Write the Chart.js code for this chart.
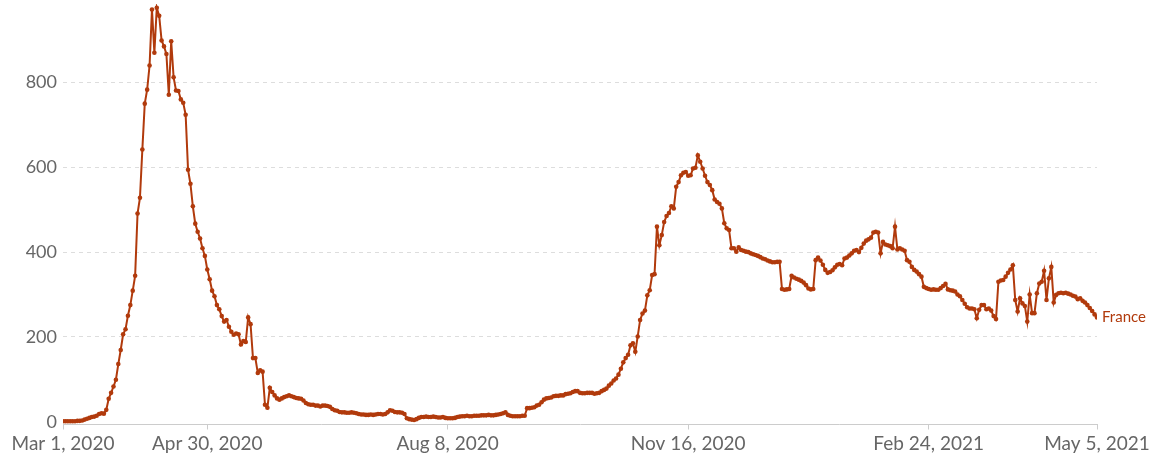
<!DOCTYPE html>
<html>
<head>
<meta charset="utf-8">
<script src="https://cdn.jsdelivr.net/npm/chart.js@4.4.1/dist/chart.umd.min.js"></script>
<style>
html, body { margin: 0; padding: 0; background: #fff; }
#wrap { width: 1155px; height: 454px; position: relative; }
</style>
</head>
<body>
<div id="wrap"><canvas id="myChart"></canvas></div>
<script>
// Daily values for France, one per day from Mar 1, 2020 (day 0) to May 5, 2021 (day 430)
let seriesName = "France";
let deaths = [
    1, 1, 1, 1, 1, 1, 2, 2, 3, 5,
    7, 9, 11, 12, 14, 18, 20, 19, 28, 54,
    68, 83, 99, 136, 169, 206, 218, 250, 275, 309,
    344, 491, 528, 642, 750, 783, 840, 972, 870, 976,
    957, 899, 885, 867, 771, 897, 812, 781, 780, 760,
    752, 724, 594, 561, 508, 467, 448, 432, 409, 391,
    359, 336, 309, 296, 275, 265, 249, 236, 240, 224,
    212, 205, 208, 206, 182, 190, 188, 246, 230, 150,
    150, 115, 121, 118, 40, 33, 80, 70, 62, 55,
    52, 55, 58, 60, 62, 60, 58, 56, 55, 54,
    50, 44, 41, 40, 40, 38, 38, 36, 38, 38,
    37, 35, 30, 27, 26, 23, 22, 22, 21, 21,
    22, 21, 20, 18, 17, 17, 16, 16, 17, 16,
    17, 18, 18, 17, 18, 22, 27, 26, 23, 22,
    22, 21, 18, 8, 6, 5, 4, 6, 9, 11,
    11, 12, 11, 11, 12, 11, 10, 10, 11, 9,
    8, 8, 8, 9, 11, 12, 13, 13, 14, 13,
    13, 14, 14, 14, 15, 15, 15, 16, 15, 15,
    16, 17, 18, 20, 22, 16, 14, 13, 13, 13,
    13, 14, 14, 32, 32, 33, 34, 38, 40, 46,
    52, 55, 56, 57, 60, 61, 61, 62, 62, 65,
    66, 67, 70, 72, 72, 68, 67, 67, 68, 68,
    68, 66, 67, 68, 72, 75, 78, 85, 90, 97,
    102, 111, 125, 140, 150, 158, 180, 185, 165, 201,
    240, 255, 262, 298, 310, 346, 348, 460, 416, 440,
    471, 485, 492, 508, 503, 554, 565, 581, 587, 589,
    580, 581, 597, 599, 628, 613, 597, 580, 565, 558,
    546, 524, 518, 514, 503, 468, 456, 452, 409, 409,
    401, 411, 405, 403, 401, 400, 397, 395, 393, 391,
    388, 385, 383, 380, 378, 376, 376, 377, 377, 313,
    311, 312, 313, 344, 340, 337, 335, 332, 328, 322,
    314, 312, 313, 381, 387, 380, 370, 358, 351, 353,
    357, 364, 370, 372, 369, 385, 387, 392, 397, 403,
    405, 400, 410, 420, 427, 430, 434, 446, 448, 446,
    397, 424, 418, 416, 414, 409, 460, 406, 409, 406,
    403, 381, 377, 365, 358, 354, 348, 342, 318, 315,
    313, 311, 312, 311, 311, 315, 320, 325, 312, 310,
    309, 307, 300, 296, 287, 278, 270, 267, 267, 265,
    244, 264, 275, 275, 265, 267, 262, 249, 242, 330,
    333, 334, 342, 351, 359, 369, 287, 260, 291, 279,
    273, 236, 300, 256, 256, 303, 326, 330, 356, 287,
    338, 365, 281, 299, 303, 304, 303, 304, 302, 300,
    297, 295, 289, 291, 285, 281, 275, 268, 261, 253,
    246
];

// x axis ticks (day index from Mar 1, 2020) and their labels
let tickDays = [0, 60, 160, 260, 360, 430];
let tickLabels = ["Mar 1, 2020", "Apr 30, 2020", "Aug 8, 2020", "Nov 16, 2020", "Feb 24, 2021", "May 5, 2021"];
let yTicks = [0, 200, 400, 600, 800];

let lineColor = "#b13a0c";
let points = deaths.map(function(v, i) { return { x: i, y: v }; });

// writes the series name next to the last point
let endLabel = {
    id: "endLabel",
    afterDatasetsDraw: function(chart) {
        let meta = chart.getDatasetMeta(0);
        let last = meta.data[meta.data.length - 1];
        let c = chart.ctx;
        c.save();
        c.font = "15px Lato";
        c.fillStyle = lineColor;
        c.textBaseline = "middle";
        c.fillText(seriesName, last.x + 5, last.y);
        c.restore();
    }
};

let ctx = document.getElementById("myChart").getContext("2d");
let myChart = new Chart(ctx, {
    type: "line",
    data: {
        datasets: [{
            label: seriesName,
            data: points,
            borderColor: lineColor,
            backgroundColor: lineColor,
            borderWidth: 2,
            pointRadius: 2.3,
            pointBorderWidth: 0,
            pointBackgroundColor: lineColor,
            tension: 0
        }]
    },
    options: {
        responsive: true,
        maintainAspectRatio: false,
        animation: false,
        layout: { padding: { top: 3, right: 58, left: 0, bottom: 0 } },
        plugins: {
            legend: { display: false },
            tooltip: { enabled: false }
        },
        scales: {
            x: {
                type: "linear",
                min: 0,
                max: 430,
                afterBuildTicks: function(scale) {
                    scale.ticks = tickDays.map(function(d) { return { value: d }; });
                },
                afterFit: function(scale) {
                    scale.height = 29.5;
                    scale.paddingLeft = 0;
                    scale.paddingRight = 0;
                },
                grid: { display: true, drawOnChartArea: false, drawTicks: true, tickLength: 5, color: "#ccc" },
                border: { display: true, color: "#ccc" },
                ticks: {
                    autoSkip: false,
                    maxRotation: 0,
                    padding: 3,
                    color: "#666",
                    font: { family: "Lato", size: 19 },
                    callback: function(value) {
                        let i = tickDays.indexOf(value);
                        return i >= 0 ? tickLabels[i] : "";
                    }
                }
            },
            y: {
                min: -6.6,
                max: 985,
                afterBuildTicks: function(scale) {
                    scale.ticks = yTicks.map(function(v) { return { value: v }; });
                },
                afterFit: function(scale) {
                    scale.width = 63;
                    scale.paddingTop = 0;
                    scale.paddingBottom = 0;
                },
                grid: {
                    drawTicks: false,
                    color: function(c) { return c.tick && c.tick.value === 0 ? "rgba(0,0,0,0)" : "#ddd"; }
                },
                border: { display: false, dash: [4, 4] },
                ticks: {
                    padding: 6,
                    color: "#666",
                    font: { family: "Lato", size: 18 }
                }
            }
        }
    },
    plugins: [endLabel]
});
</script>
</body>
</html>
